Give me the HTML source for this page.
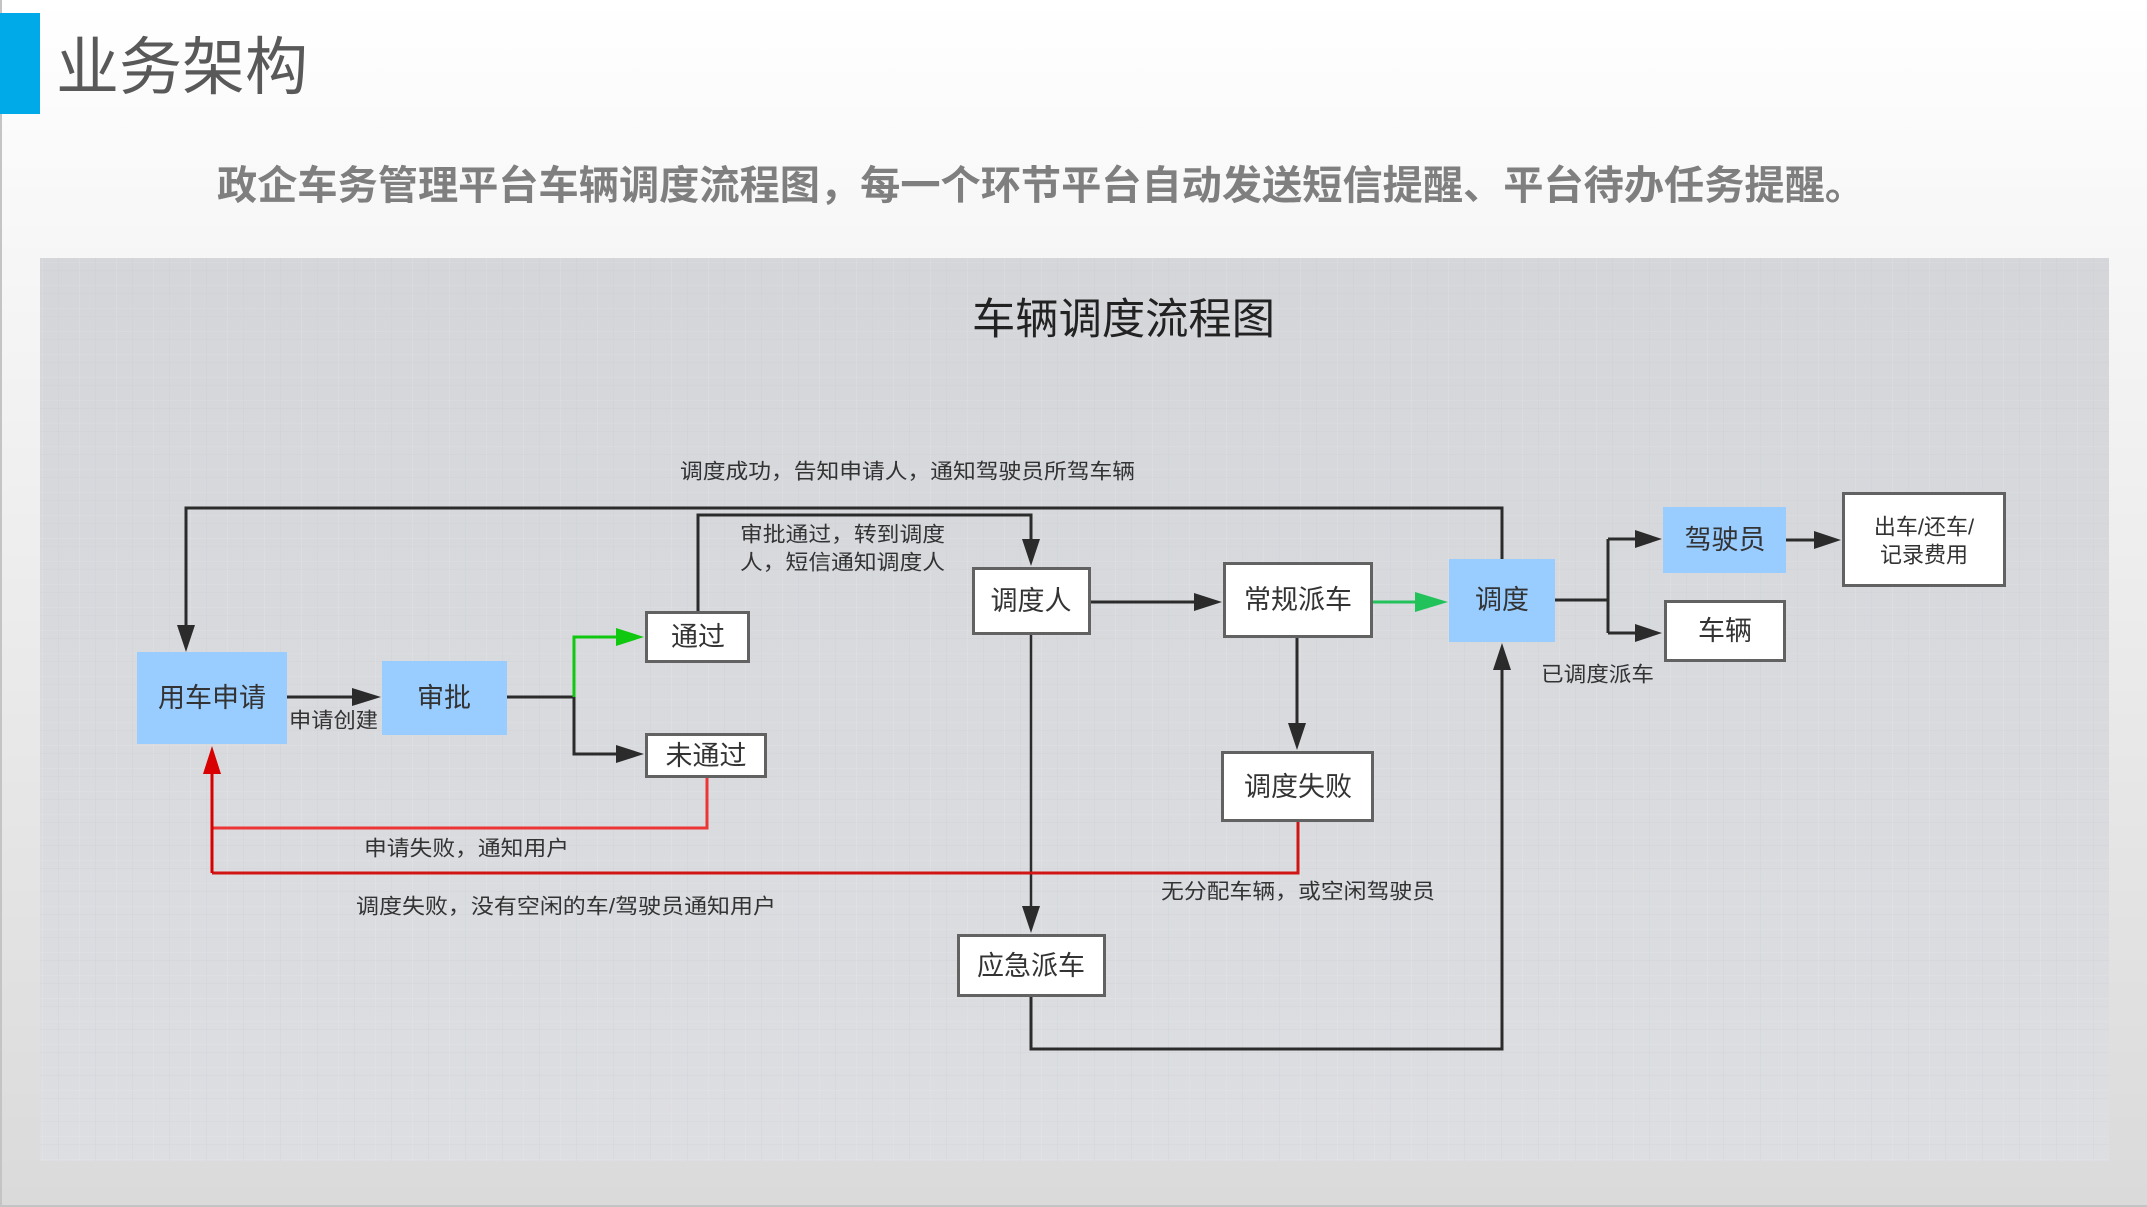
<!DOCTYPE html>
<html>
<head>
<meta charset="utf-8">
<style>
html,body{margin:0;padding:0;}
body{width:2147px;height:1207px;overflow:hidden;background:linear-gradient(#ffffff 0%,#f6f6f6 22%,#dadada 100%);}
svg{display:block;}
text{font-family:"Liberation Sans","Noto Sans CJK SC","WenQuanYi Zen Hei",sans-serif;}
</style>
</head>
<body>
<svg width="2147" height="1207" viewBox="0 0 2147 1207" xmlns="http://www.w3.org/2000/svg">
  <defs>
    <linearGradient id="pg" x1="0" y1="0" x2="0" y2="1">
      <stop offset="0" stop-color="#d4d6da"/>
      <stop offset="1" stop-color="#dcdee2"/>
    </linearGradient>
    <pattern id="tex" width="37" height="23" patternUnits="userSpaceOnUse">
      <rect x="5" y="0" width="1" height="23" fill="#ffffff" opacity="0.10"/>
      <rect x="21" y="0" width="1" height="23" fill="#c8cacf" opacity="0.25"/>
      <rect x="0" y="9" width="37" height="1" fill="#ffffff" opacity="0.08"/>
      <rect x="0" y="17" width="37" height="1" fill="#c6c8cc" opacity="0.18"/>
    </pattern>
  </defs>

  <!-- page borders -->
  <rect x="0" y="0" width="2" height="1207" fill="#c4c4c4"/>
  <rect x="0" y="1205" width="2147" height="2" fill="#c4c4c4"/>

  <!-- header -->
  <rect x="0" y="13" width="40" height="101" fill="#00a9e8"/>
  <text x="56" y="68" font-size="63" fill="#595959" dominant-baseline="central" textLength="252" lengthAdjust="spacingAndGlyphs">业务架构</text>
  <text x="217" y="186" font-size="40" font-weight="bold" fill="#7f7f7f" dominant-baseline="central" textLength="1648" lengthAdjust="spacingAndGlyphs">政企车务管理平台车辆调度流程图，每一个环节平台自动发送短信提醒、平台待办任务提醒。</text>

  <!-- diagram panel -->
  <rect x="40" y="258" width="2069" height="903" fill="url(#pg)"/>
  <rect x="40" y="258" width="2069" height="903" fill="url(#tex)"/>

  <text x="972" y="320" font-size="43" fill="#222" dominant-baseline="central" textLength="303" lengthAdjust="spacingAndGlyphs">车辆调度流程图</text>

  <!-- connectors: black -->
  <g fill="none" stroke="#2b2b2b" stroke-width="3">
    <polyline points="287,697 356,697"/>
    <polyline points="507,697 574,697 574,754 620,754"/>
    <polyline points="698,611 698,515 1031,515 1031,542"/>
    <polyline points="1502,559 1502,508 186,508 186,628"/>
    <polyline points="1091,602 1196,602"/>
    <polyline points="1297,638 1297,726"/>
    <polyline points="1031,635 1031,909" stroke-width="2.5"/>
    <polyline points="1031,997 1031,1049 1502,1049 1502,668" stroke-width="3"/>
    <polyline points="1555,600 1608,600"/>
    <polyline points="1608,539 1608,633"/>
    <polyline points="1608,539 1638,539"/>
    <polyline points="1608,633 1638,633"/>
    <polyline points="1786,540 1816,540"/>
  </g>
  <g fill="#2b2b2b">
    <polygon points="381,697 352,688 352,706"/>
    <polygon points="644,754 616,745 616,763"/>
    <polygon points="1031,566 1022,539 1040,539"/>
    <polygon points="186,652 177,625 195,625"/>
    <polygon points="1222,602 1194,593 1194,611"/>
    <polygon points="1297,750 1288,723 1306,723"/>
    <polygon points="1031,933 1022,906 1040,906"/>
    <polygon points="1502,643 1493,670 1511,670"/>
    <polygon points="1662,539 1635,530 1635,548"/>
    <polygon points="1662,633 1635,624 1635,642"/>
    <polygon points="1841,540 1814,531 1814,549"/>
  </g>

  <!-- green connectors -->
  <polyline points="574,697 574,637 620,637" fill="none" stroke="#10c810" stroke-width="3"/>
  <polygon points="644,637 616,628 616,646" fill="#10c810"/>
  <polyline points="1373,602 1420,602" fill="none" stroke="#22c25a" stroke-width="3"/>
  <polygon points="1448,602 1415,592 1415,612" fill="#22c25a"/>

  <!-- red connectors -->
  <polyline points="707,778 707,828 212,828" fill="none" stroke="#ec3535" stroke-width="3"/>
  <polyline points="1298,822 1298,873 212,873" fill="none" stroke="#d01515" stroke-width="3"/>
  <polyline points="212,873 212,772" fill="none" stroke="#d80000" stroke-width="3"/>
  <polygon points="212,746 203,774 221,774" fill="#d80000"/>

  <!-- blue nodes -->
  <g fill="#99ccff">
    <rect x="137" y="652" width="150" height="92"/>
    <rect x="382" y="661" width="125" height="74"/>
    <rect x="1449" y="559" width="106" height="83"/>
    <rect x="1663" y="507" width="123" height="66"/>
  </g>

  <!-- white nodes -->
  <g fill="#ffffff" stroke="#626262" stroke-width="3">
    <rect x="646.5" y="612.5" width="102" height="49"/>
    <rect x="646.5" y="734.5" width="119" height="42"/>
    <rect x="973.5" y="568.5" width="116" height="65"/>
    <rect x="1224.5" y="563.5" width="147" height="73"/>
    <rect x="1222.5" y="752.5" width="150" height="68"/>
    <rect x="958.5" y="935.5" width="146" height="60"/>
    <rect x="1665.5" y="601.5" width="119" height="59"/>
    <rect x="1843.5" y="493.5" width="161" height="92"/>
  </g>

  <!-- node labels -->
  <g font-size="27" fill="#333" text-anchor="middle" dominant-baseline="central">
    <text x="212" y="698">用车申请</text>
    <text x="444" y="698">审批</text>
    <text x="698" y="637">通过</text>
    <text x="706" y="756">未通过</text>
    <text x="1031" y="601">调度人</text>
    <text x="1298" y="600">常规派车</text>
    <text x="1502" y="600">调度</text>
    <text x="1298" y="787">调度失败</text>
    <text x="1031" y="966">应急派车</text>
    <text x="1725" y="540">驾驶员</text>
    <text x="1725" y="631">车辆</text>
  </g>
  <g font-size="22" fill="#333" text-anchor="middle" dominant-baseline="central">
    <text x="1924" y="527">出车/还车/</text>
    <text x="1924" y="555">记录费用</text>
  </g>

  <!-- edge labels -->
  <g font-size="21" fill="#333" dominant-baseline="central">
    <text x="289" y="721" textLength="89" lengthAdjust="spacingAndGlyphs">申请创建</text>
    <text x="680" y="472" textLength="455" lengthAdjust="spacingAndGlyphs">调度成功，告知申请人，通知驾驶员所驾车辆</text>
    <text x="740" y="535" textLength="205" lengthAdjust="spacingAndGlyphs">审批通过，转到调度</text>
    <text x="740" y="563" textLength="205" lengthAdjust="spacingAndGlyphs">人，短信通知调度人</text>
    <text x="1541" y="675" textLength="113" lengthAdjust="spacingAndGlyphs">已调度派车</text>
    <text x="364" y="849" textLength="205" lengthAdjust="spacingAndGlyphs">申请失败，通知用户</text>
    <text x="356" y="907" textLength="420" lengthAdjust="spacingAndGlyphs">调度失败，没有空闲的车/驾驶员通知用户</text>
    <text x="1161" y="892" textLength="274" lengthAdjust="spacingAndGlyphs">无分配车辆，或空闲驾驶员</text>
  </g>
</svg>
</body>
</html>
